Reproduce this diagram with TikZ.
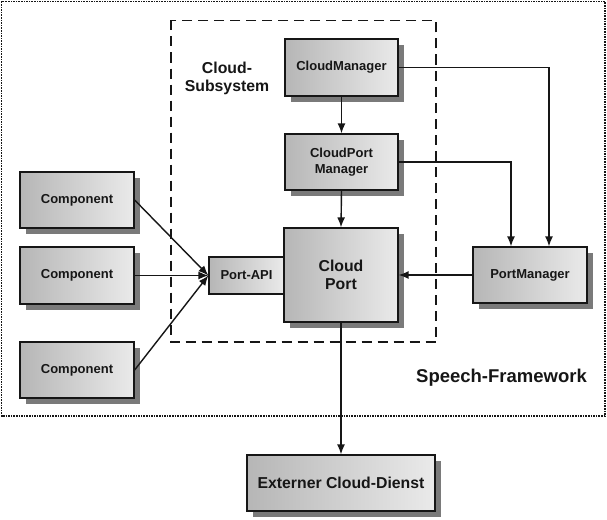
\documentclass[tikz,border=0pt]{standalone}
\usepackage{fontspec}
\setmainfont{Liberation Sans}
\usetikzlibrary{arrows.meta,shadows}
\definecolor{boxL}{RGB}{182,182,182}
\definecolor{boxR}{RGB}{234,234,234}
\definecolor{shd}{RGB}{122,122,122}
\definecolor{ink}{RGB}{22,22,22}
\tikzset{
  box/.style={draw=ink, line width=1.3pt, left color=boxL, right color=boxR,
    font=\bfseries\fontsize{13}{16}\selectfont, text=ink, align=center, inner sep=0pt},
  shbox/.style={box, drop shadow={shadow xshift=6pt, shadow yshift=-6pt, fill=shd, opacity=1}},
  arr/.style={draw=ink, line width=1.4pt, -{Latex[length=10pt,width=8pt]}},
  lbl/.style={font=\bfseries\fontsize{15.8}{18}\selectfont, text=ink, align=center, inner sep=0pt},
}
\begin{document}
\begin{tikzpicture}[x=1pt,y=-1pt]
\useasboundingbox[fill=white] (0,0) rectangle (607,519);
% frames
\draw[ink, line width=1.1pt, dash pattern=on 1.6pt off 1pt] (1.5,1.5) rectangle (605,416);
\draw[ink, line width=1.3pt, dash pattern=on 10pt off 6pt] (171,20.5) rectangle (436,342);
% labels
\node[lbl] (sub) at (227,78) {Cloud-\\Subsystem};
\node[lbl, font=\bfseries\fontsize{18.5}{22}\selectfont] (fw) at (501.5,378) {Speech-Framework};
% boxes
\node[shbox, minimum width=113, minimum height=57] (cm) at (341.5,67.5) {CloudManager};
\node[shbox, minimum width=113, minimum height=56] (cpm) at (341.5,162) {CloudPort\\Manager};
\node[shbox, minimum width=114, minimum height=94, font=\bfseries\fontsize{15.8}{18}\selectfont] (cp) at (341,275) {Cloud\\Port};
\node[box, minimum width=75, minimum height=37] (api) at (246.5,275.5) {Port-API};
\node[shbox, minimum width=114, minimum height=56] (pm) at (530,275) {PortManager};
\node[shbox, minimum width=114, minimum height=56] (c1) at (77,200) {Component};
\node[shbox, minimum width=114, minimum height=57] (c2) at (77,275.5) {Component};
\node[shbox, minimum width=114, minimum height=56] (c3) at (77,370) {Component};
\node[shbox, minimum width=188, minimum height=56, font=\bfseries\fontsize{15.8}{18}\selectfont] (ext) at (341,483) {Externer Cloud-Dienst};
% connectors
\draw[arr] (cm.east) -| ([xshift=19pt]pm.north);
\draw[arr] (cpm.east) -| ([xshift=-19pt]pm.north);
\draw[arr] (cm.south) -- (cpm.north);
\draw[arr] (cpm.south) -- (cp.north);
\draw[arr] (pm.west) -- (cp.east);
\draw[arr] (c1.east) -- (api.west);
\draw[arr] (c2.east) -- (api.west);
\draw[arr] (c3.east) -- (api.west);
\draw[arr] (cp.south) -- (ext.north);
\end{tikzpicture}
\end{document}
